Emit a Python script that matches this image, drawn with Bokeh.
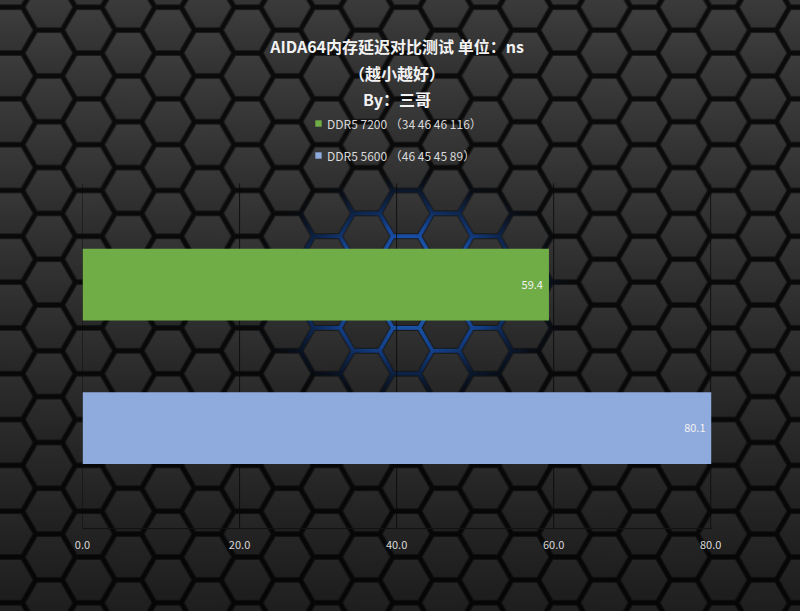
import math
from urllib.parse import quote

from bokeh.plotting import figure
from bokeh.models import (ColumnDataSource, Range1d, FixedTicker, NumeralTickFormatter,
                          LabelSet, Legend, LegendItem, Title, GlobalInlineStyleSheet)
from bokeh.core.properties import value
from bokeh.embed import file_html
from bokeh.resources import INLINE

# ---------------- data ----------------
title_lines = ["AIDA64内存延迟对比测试 单位：ns", "（越小越好）", "By：三哥"]
series = ["DDR5 7200 （34 46 46 116）", "DDR5 5600 （46 45 45 89）"]
latency_ns = [59.4, 80.1]
bar_colors = ["#70ad47", "#8faadc"]
x_ticks = [0, 20, 40, 60, 80]
x_max = 80.1

FONT = "Noto Sans CJK SC"

# ---------------- layout constants ----------------
Y_BOTTOM = -0.70      # value-axis units below the lowest category
Y_TOP = 2.207         # room above the top category for the legend
GRID_TOP = 1.705      # where the vertical grid lines stop
BAR_H = 0.5

# ---------------- hexagon page background (decoration) ----------------
R = 26.45
A = math.sqrt(3) / 2 * R
TW, TH = 3 * R, 2 * A
r = R - 2.8
ar = math.sqrt(3) / 2 * r


def hexagon(cx, cy):
    pts = [(cx + r, cy), (cx + r / 2, cy + ar), (cx - r / 2, cy + ar),
           (cx - r, cy), (cx - r / 2, cy - ar), (cx + r / 2, cy - ar)]
    return ("<polygon points='" + " ".join(f"{x:.2f},{y:.2f}" for x, y in pts)
            + "' fill='url(#face)' stroke='#1c1c1c' stroke-width='1'/>")


tile = "".join(hexagon(cx, cy) for cx, cy in [(0, 0), (TW, 0), (0, TH), (TW, TH), (TW / 2, TH / 2)])
svg_bg = (
    "<svg xmlns='http://www.w3.org/2000/svg' width='800' height='611'>"
    "<defs>"
    "<linearGradient id='face' x1='0' y1='0' x2='0' y2='1'>"
    "<stop offset='0' stop-color='#3e3e3e'/><stop offset='1' stop-color='#333333'/></linearGradient>"
    f"<pattern id='hex' patternUnits='userSpaceOnUse' x='49' y='53' width='{TW:.3f}' height='{TH:.3f}'>{tile}</pattern>"
    "<radialGradient id='glow'>"
    "<stop offset='0' stop-color='#2c86ff' stop-opacity='1'/>"
    "<stop offset='0.5' stop-color='#1b5fd0' stop-opacity='0.85'/>"
    "<stop offset='0.8' stop-color='#0d2f66' stop-opacity='0.4'/>"
    "<stop offset='1' stop-color='#000000' stop-opacity='0'/></radialGradient>"
    "<linearGradient id='shade' x1='0' y1='0' x2='0' y2='1'>"
    "<stop offset='0' stop-color='#000' stop-opacity='0'/>"
    "<stop offset='0.35' stop-color='#000' stop-opacity='0.12'/>"
    "<stop offset='1' stop-color='#000' stop-opacity='0.45'/></linearGradient>"
    "</defs>"
    "<rect width='800' height='611' fill='#0b0b0b'/>"
    "<ellipse cx='410' cy='290' rx='170' ry='125' fill='url(#glow)'/>"
    "<rect width='800' height='611' fill='url(#hex)'/>"
    "<rect width='800' height='611' fill='url(#shade)'/>"
    "</svg>"
)
page_css = ("html { background: #1e1e1e url(\"data:image/svg+xml," + quote(svg_bg, safe="")
            + "\") no-repeat 0 0; } body { background: transparent; }")

# ---------------- figure ----------------
p = figure(width=800, height=611, output_backend="svg", toolbar_location=None, title_location=None,
           x_range=Range1d(0, x_max), y_range=Range1d(Y_BOTTOM, Y_TOP),
           min_border_left=82, min_border_right=89, min_border_top=111, min_border_bottom=83)
p.stylesheets = [GlobalInlineStyleSheet(css=page_css)]
p.background_fill_alpha = 0
p.border_fill_alpha = 0
p.outline_line_color = None

# vertical grid lines at the tick values
grid_src = ColumnDataSource(dict(x=x_ticks, y0=[Y_BOTTOM] * len(x_ticks), y1=[GRID_TOP] * len(x_ticks)))
p.segment(x0="x", y0="y0", x1="x", y1="y1", source=grid_src, line_color="#0a0a0a",
          line_alpha=0.85, line_width=1)

positions = list(range(len(series)))[::-1]   # first series on top
src = ColumnDataSource(dict(cat=series, pos=positions, val=latency_ns, color=bar_colors,
                            label=[f"{v:.1f}" for v in latency_ns]))
bars = p.hbar(y="pos", left=0, right="val", height=BAR_H, fill_color="color", line_color=None,
              source=src)

p.add_layout(LabelSet(x="val", y="pos", text="label", source=src, x_offset=-6,
                      text_align="right", text_baseline="middle", text_font=value(FONT),
                      text_font_size="11px", text_color="#f2f2f2"))

# x axis
xa = p.xaxis[0]
xa.ticker = FixedTicker(ticks=x_ticks)
xa.formatter = NumeralTickFormatter(format="0.0")
xa.major_tick_out = 0
xa.major_tick_in = 0
xa.minor_tick_out = 0
xa.minor_tick_in = 0
xa.axis_line_color = "#121212"
xa.major_label_text_color = "#d9d9d9"
xa.major_label_text_font = FONT
xa.major_label_text_font_size = "11px"
xa.major_label_standoff = 12
p.yaxis.visible = False
p.xgrid.visible = False
p.ygrid.visible = False

legend = Legend(items=[LegendItem(label=series[i], renderers=[bars], index=i) for i in range(len(series))],
                location=(232, 363), orientation="vertical",
                glyph_width=8, glyph_height=8, label_height=20, label_standoff=5,
                spacing=12, padding=0, margin=0,
                background_fill_alpha=0, border_line_color=None,
                label_text_font=FONT, label_text_font_size="12px", label_text_color="#d9d9d9")
p.add_layout(legend)

title_standoffs = [2, 0, 0]
for text, so in reversed(list(zip(title_lines, title_standoffs))):
    p.add_layout(Title(text=text, align="center", vertical_align="middle", text_font=FONT,
                       text_font_size="16px", text_font_style="bold", text_color="#f2f2f2",
                       standoff=so), "above")

open("out.html", "w").write(file_html(p, INLINE, title="AIDA64内存延迟对比测试"))
